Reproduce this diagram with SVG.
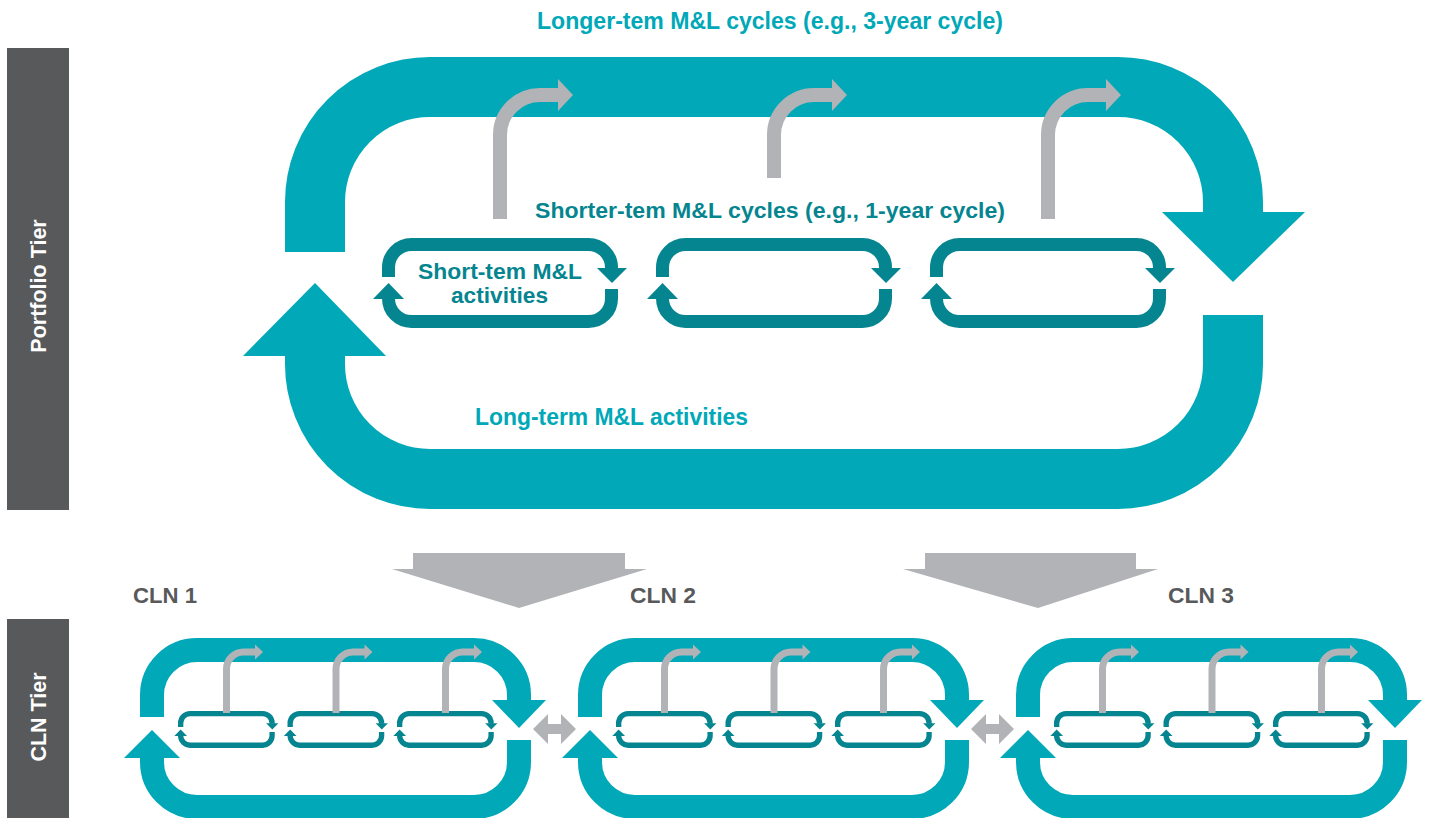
<svg xmlns="http://www.w3.org/2000/svg" xmlns:xlink="http://www.w3.org/1999/xlink" width="1430" height="818" viewBox="0 0 1430 818">
  <style>
    .band { fill: none; stroke: #00A8B8; stroke-linejoin: round; stroke-linecap: butt; }
    .head { fill: #00A8B8; }
    .dk-band { fill: none; stroke: #05858F; stroke-width: 13; stroke-linecap: butt; }
    .dk { fill: #05858F; }
    .g-line { fill: none; stroke: #B1B3B6; stroke-linecap: butt; }
    .g-fill { fill: #B1B3B6; }
    .tier { fill: #58595B; }
    .txt { font-family: "Liberation Sans", Arial, sans-serif; font-weight: bold; }
    .teal-t { fill: #00A8B8; }
    .dk-t { fill: #05858F; }
    .gray-t { fill: #58595B; }
    .white-t { fill: #FFFFFF; }
  </style>
  <defs>
    <!-- short cycle: rounded loop with two turning arrows, 236 x 90 -->
    <g id="mini-cycle">
      <path class="dk-band" d="M6.5,39 V29.5 A23,23 0 0 1 29.5,6.5 H206.5 A23,23 0 0 1 229.5,29.5 V31"/>
      <polygon class="dk" points="215,30 245,30 230,45"/>
      <path class="dk-band" d="M229.5,51 V60.5 A23,23 0 0 1 206.5,83.5 H29.5 A23,23 0 0 1 6.5,60.5 V60"/>
      <polygon class="dk" points="-9,61 22,61 6.5,45"/>
    </g>
    <!-- small bent arrow rising from a short cycle -->
    <g id="sprout-sm">
      <path class="g-line" stroke-width="7" d="M0,0 V-44 A17,17 0 0 1 17,-61 H29"/>
      <polygon class="g-fill" points="28.5,-68.5 36.5,-61 28.5,-53.5"/>
    </g>
    <!-- CLN cycle: long loop with three short cycles inside -->
    <g id="cln-cycle">
      <path class="band" stroke-width="24" d="M152,717 V695 A45,45 0 0 1 197,650 H474 A45,45 0 0 1 519,695 V701"/>
      <polygon class="head" points="492,700 546,700 519,728"/>
      <path class="band" stroke-width="24" d="M519,740 V762 A45,45 0 0 1 474,807 H197 A45,45 0 0 1 152,762 V757"/>
      <polygon class="head" points="124,758 180,758 152,730"/>
      <use xlink:href="#mini-cycle" transform="translate(178,711) scale(0.41)"/>
      <use xlink:href="#mini-cycle" transform="translate(287.5,711) scale(0.41)"/>
      <use xlink:href="#mini-cycle" transform="translate(397,711) scale(0.41)"/>
      <use xlink:href="#sprout-sm" transform="translate(226.5,713)"/>
      <use xlink:href="#sprout-sm" transform="translate(336,713)"/>
      <use xlink:href="#sprout-sm" transform="translate(445.5,713)"/>
    </g>
  </defs>

  <rect width="1430" height="818" fill="#FFFFFF"/>

  <!-- tier labels -->
  <g id="portfolio-tier">
    <rect class="tier" x="7" y="48" width="62" height="462"/>
    <text class="txt white-t" font-size="21.5" text-anchor="middle" transform="translate(46,286) rotate(-90)">Portfolio Tier</text>
  </g>
  <g id="cln-tier">
    <rect class="tier" x="7" y="619" width="62" height="199"/>
    <text class="txt white-t" font-size="21.5" text-anchor="middle" transform="translate(46,717) rotate(-90)">CLN Tier</text>
  </g>

  <!-- portfolio long-term cycle -->
  <g id="long-cycle">
    <path class="band" stroke-width="60" d="M315,252 V202 A115,115 0 0 1 430,87 H1118 A115,115 0 0 1 1233,202 V214"/>
    <polygon class="head" points="1162,212 1305,212 1233,282"/>
    <path class="band" stroke-width="60" d="M1233,315 V364 A115,115 0 0 1 1118,479 H430 A115,115 0 0 1 315,364 V354"/>
    <polygon class="head" points="243,356 386,356 315,283"/>
    <text class="txt teal-t" font-size="24" x="537" y="29" textLength="466" lengthAdjust="spacingAndGlyphs">Longer-tem M&amp;L cycles (e.g., 3-year cycle)</text>
    <text class="txt teal-t" font-size="24" x="475" y="425" textLength="273" lengthAdjust="spacingAndGlyphs">Long-term M&amp;L activities</text>
  </g>

  <!-- portfolio short-term cycles -->
  <g id="short-cycles">
    <text class="txt dk-t" font-size="22.5" x="535" y="218" textLength="470" lengthAdjust="spacingAndGlyphs">Shorter-tem M&amp;L cycles (e.g., 1-year cycle)</text>
    <g id="short-cycle-1">
      <use xlink:href="#mini-cycle" transform="translate(382,238)"/>
      <text class="txt dk-t" font-size="22.5" x="418" y="279" textLength="164" lengthAdjust="spacingAndGlyphs">Short-tem M&amp;L</text>
      <text class="txt dk-t" font-size="22.5" x="451" y="303" textLength="97" lengthAdjust="spacingAndGlyphs">activities</text>
    </g>
    <g id="short-cycle-2">
      <use xlink:href="#mini-cycle" transform="translate(656,238)"/>
    </g>
    <g id="short-cycle-3">
      <use xlink:href="#mini-cycle" transform="translate(930,238)"/>
    </g>
  </g>

  <!-- CLN cycles -->
  <g id="cln-1">
    <text class="txt gray-t" font-size="22" x="133" y="603" textLength="64" lengthAdjust="spacingAndGlyphs">CLN 1</text>
    <use xlink:href="#cln-cycle"/>
  </g>
  <g id="cln-2">
    <text class="txt gray-t" font-size="22" x="630" y="603" textLength="66" lengthAdjust="spacingAndGlyphs">CLN 2</text>
    <use xlink:href="#cln-cycle" transform="translate(438,0)"/>
  </g>
  <g id="cln-3">
    <text class="txt gray-t" font-size="22" x="1168" y="603" textLength="66" lengthAdjust="spacingAndGlyphs">CLN 3</text>
    <use xlink:href="#cln-cycle" transform="translate(876,0)"/>
  </g>

  <!-- connectors -->
  <g id="connectors">
    <!-- results fed from short cycles into the long cycle -->
    <path class="g-line" stroke-width="14" d="M500,219 V135 A40,40 0 0 1 540,95 H559"/>
    <polygon class="g-fill" points="558,79 573,95 558,111"/>
    <path class="g-line" stroke-width="14" d="M774,178 V135 A40,40 0 0 1 814,95 H833"/>
    <polygon class="g-fill" points="832,79 847,95 832,111"/>
    <path class="g-line" stroke-width="14" d="M1048,219 V135 A40,40 0 0 1 1088,95 H1107"/>
    <polygon class="g-fill" points="1106,79 1121,95 1106,111"/>
    <!-- portfolio tier down to CLN tier -->
    <polygon class="g-fill" points="413,553 625,553 625,569 647,569 519,608 392,569 413,569"/>
    <polygon class="g-fill" points="925,553 1136,553 1136,569 1158,569 1038,608 903,569 925,569"/>
    <!-- exchange between CLNs -->
    <polygon class="g-fill" points="533,729 548,714 548,724 561,724 561,714 576,729 561,744 561,734 548,734 548,744"/>
    <polygon class="g-fill" points="971,729 986,714 986,724 999,724 999,714 1014,729 999,744 999,734 986,734 986,744"/>
  </g>
</svg>
